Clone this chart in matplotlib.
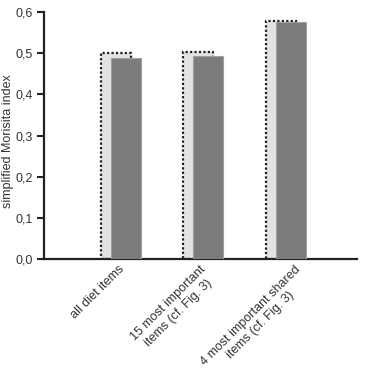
import matplotlib.pyplot as plt
import matplotlib.transforms as mtransforms
import numpy as np

plt.rcParams["font.family"] = ["Liberation Sans", "DejaVu Sans"]

categories = [
    "all diet items",
    "15 most important\nitems (cf. Fig. 3)",
    "4 most important shared\nitems (cf. Fig. 3)",
]
dotted_values = [0.500, 0.503, 0.579]
solid_values = [0.488, 0.493, 0.576]
y_ticks = [0.0, 0.1, 0.2, 0.3, 0.4, 0.5, 0.6]
y_tick_labels = ["0,0", "0,1", "0,2", "0,3", "0,4", "0,5", "0,6"]

fig = plt.figure(figsize=(3.69, 3.76), dpi=100)
ax = fig.add_axes([0.119, 0.311, 0.848, 0.657])

x = np.arange(len(categories))
width = 0.364
shift = 0.06

# light bars with dotted outline, drawn behind the dark ones
ax.bar(x - shift, dotted_values, width, color="#e3e3e3",
       edgecolor="#1e1e1e", linestyle=(0, (1, 1)), linewidth=1.6, zorder=2)
ax.bar(x + shift, solid_values, width, color="#7a7c7e",
       edgecolor="#a0a0a0", linewidth=0.8, zorder=3)

ax.set_xlim(-0.933, 2.86)
ax.set_ylim(0, 0.6)
ax.set_yticks(y_ticks)
ax.set_yticklabels(y_tick_labels, fontsize=9, color="#333333")
ax.set_xticks(x + 0.02)
ax.set_xticklabels(categories, rotation=45, ha="right", va="top",
                   rotation_mode="anchor", fontsize=9, color="#333333",
                   multialignment="center")
ax.tick_params(axis="x", length=0, pad=3)
ax.tick_params(axis="y", length=5, width=1.5, direction="out", pad=3,
               color="#222222")

# nudge the rotated labels a little (pixels) to sit where the original has them
nudges = [-4, -5, 7]
for lab, dx in zip(ax.get_xticklabels(), nudges):
    lab.set_transform(lab.get_transform()
                      + mtransforms.ScaledTranslation(dx / 100, 0, fig.dpi_scale_trans))

ax.set_ylabel("simplified Morisita index", fontsize=9, color="#333333")
ax.yaxis.set_label_coords(14 / 369, 0.625, transform=fig.transFigure)

for side in ["top", "right"]:
    ax.spines[side].set_visible(False)
for side in ["left", "bottom"]:
    ax.spines[side].set_linewidth(1.6)
    ax.spines[side].set_color("#222222")

fig.savefig("out.png", dpi=100)
